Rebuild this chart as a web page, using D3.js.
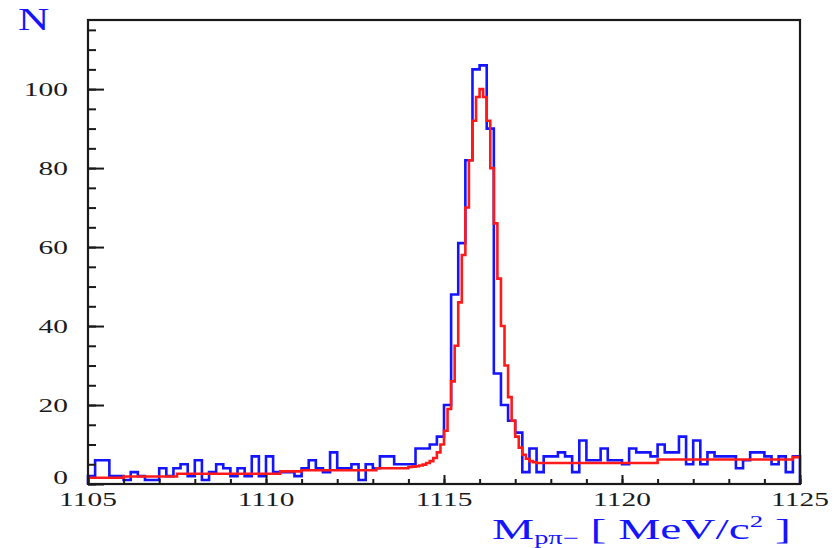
<!DOCTYPE html>
<html>
<head>
<meta charset="utf-8">
<script src="https://cdn.jsdelivr.net/npm/d3@7"></script>
<style>
  body { margin: 0; background: #fff; }
  svg { display: block; }
</style>
</head>
<body>
<div id="chart"></div>
<script>
// histogram: 100 bins of 0.2 MeV from 1105 to 1125
const binStart = 1105;
const binWidth = 0.2;
const counts = [
  2, 6, 6, 2, 2, 1, 3, 2, 1, 1,
  4, 2, 4, 5, 2, 6, 1, 3, 5, 4,
  2, 4, 2, 7, 2, 7, 3, 3, 3, 2,
  4, 6, 4, 3, 8, 4, 4, 5, 1, 5,
  4, 7, 7, 5, 5, 5, 9, 9, 10, 12,
  20, 48, 61, 82, 105, 106, 90, 28, 20, 16,
  13, 3, 9, 3, 7, 7, 8, 7, 3, 11,
  6, 6, 9, 6, 6, 5, 9, 8, 8, 7,
  10, 8, 8, 12, 5, 11, 5, 8, 7, 7,
  7, 4, 6, 8, 8, 7, 5, 7, 3, 7
];

const fitX = [1105.0, 1106.0, 1107.5, 1110.4, 1111.0, 1113.1,
  1114.0, 1114.1, 1114.2, 1114.3, 1114.4, 1114.5, 1114.6, 1114.7, 1114.8, 1114.9,
  1115.0, 1115.1, 1115.2, 1115.3, 1115.4, 1115.5, 1115.6, 1115.7, 1115.8, 1115.9,
  1116.0, 1116.1, 1116.2, 1116.3, 1116.4, 1116.5, 1116.6, 1116.7, 1116.8, 1116.9,
  1117.0, 1117.1, 1117.2, 1117.3, 1117.4, 1117.5, 1117.6, 1121.0, 1124.8, 1125.0];
const fitY = [1.6, 1.9, 2.6, 3.2, 3.5, 4.0,
  4.3, 4.4, 4.5, 4.7, 4.9, 5.3, 5.8, 6.6, 8.0, 10,
  13.5, 19, 26, 35, 46, 58, 70, 82, 92, 98,
  100, 98, 92, 80, 66, 52, 40, 30, 22, 16,
  12, 9.2, 7.4, 6.4, 5.8, 5.5, 5.3, 6.2, 6.8, 6.8];

const xMajor = [1105, 1110, 1115, 1120, 1125];
const yMajor = [0, 20, 40, 60, 80, 100];

const width = 838, height = 548;
const mLeft = 88, mRight = 800, mTop = 20, mBottom = 484;
const blue = "#1414ff", red = "#ff1a1a", ink = "#1a1a1a";
const stretch = 1.55;

const svg = d3.select("#chart").append("svg")
  .attr("width", width).attr("height", height);

const x = d3.scaleLinear().domain([1105, 1125]).range([mLeft, mRight]);
const y = d3.scaleLinear().domain([0, 117.5]).range([mBottom, mTop]);

// histogram outline
let pts = [[binStart, 0]];
counts.forEach((c, i) => pts.push([binStart + i * binWidth, c]));
pts.push([binStart + counts.length * binWidth, counts[counts.length - 1]]);
pts.push([binStart + counts.length * binWidth, 0]);

const step = d3.line().x(d => x(d[0])).y(d => y(d[1])).curve(d3.curveStepAfter);

svg.append("path")
  .attr("d", step(pts))
  .attr("fill", "none")
  .attr("stroke", blue)
  .attr("stroke-width", 2.6);

svg.append("path")
  .attr("d", step(fitX.map((v, i) => [v, fitY[i]])))
  .attr("fill", "none")
  .attr("stroke", red)
  .attr("stroke-width", 2.6);

// frame
svg.append("rect")
  .attr("x", mLeft).attr("y", mTop)
  .attr("width", mRight - mLeft).attr("height", mBottom - mTop)
  .attr("fill", "none").attr("stroke", ink).attr("stroke-width", 2.2);

// y ticks, pointing inward
svg.append("g").attr("transform", `translate(${mLeft},0)`)
  .call(d3.axisRight(y).tickValues(d3.range(0, 117.5, 5)).tickSize(8).tickFormat(""))
  .call(g => g.select(".domain").remove())
  .selectAll("line").attr("stroke", ink).attr("stroke-width", 2);
svg.append("g").attr("transform", `translate(${mLeft},0)`)
  .call(d3.axisRight(y).tickValues(yMajor).tickSize(16).tickFormat(""))
  .call(g => g.select(".domain").remove())
  .selectAll("line").attr("stroke", ink).attr("stroke-width", 2);

// x ticks, pointing inward
svg.append("g").attr("transform", `translate(0,${mBottom})`)
  .call(d3.axisTop(x).tickValues(d3.range(1105, 1125.5, 1)).tickSize(5).tickFormat(""))
  .call(g => g.select(".domain").remove())
  .selectAll("line").attr("stroke", ink).attr("stroke-width", 2);
svg.append("g").attr("transform", `translate(0,${mBottom})`)
  .call(d3.axisTop(x).tickValues(xMajor).tickSize(9).tickFormat(""))
  .call(g => g.select(".domain").remove())
  .selectAll("line").attr("stroke", ink).attr("stroke-width", 2);

// tick labels
svg.selectAll(".ylab").data(yMajor).enter().append("text")
  .attr("transform", d => `translate(68,${y(d) + (d === 0 ? 0 : 7)}) scale(${stretch},1)`)
  .attr("text-anchor", "end")
  .attr("font-family", "Liberation Serif, serif")
  .attr("font-size", 19)
  .attr("fill", ink)
  .text(d => d);

svg.selectAll(".xlab").data(xMajor).enter().append("text")
  .attr("transform", d => `translate(${x(d)},506) scale(${stretch},1)`)
  .attr("text-anchor", "middle")
  .attr("font-family", "Liberation Serif, serif")
  .attr("font-size", 19)
  .attr("fill", ink)
  .text(d => d);

// axis titles
svg.append("text")
  .attr("transform", `translate(18,30) scale(1.4,1)`)
  .attr("font-family", "Liberation Serif, serif")
  .attr("font-size", 31)
  .attr("fill", blue)
  .text("N");

const title = svg.append("text")
  .attr("transform", `translate(492,539) scale(1.58,1)`)
  .attr("font-family", "Liberation Serif, serif")
  .attr("font-size", 30)
  .attr("fill", blue);
title.append("tspan").text("M");
title.append("tspan").attr("font-size", 18).attr("dy", 5).text("pπ−");
title.append("tspan").attr("dy", -5).text(" [ MeV/c");
title.append("tspan").attr("font-size", 17).attr("dy", -12).text("2");
title.append("tspan").attr("dy", 12).text(" ]");
</script>
</body>
</html>
